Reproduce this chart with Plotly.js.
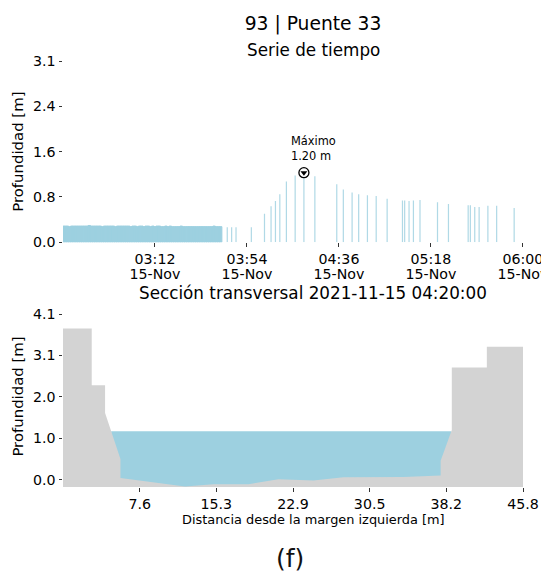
<!DOCTYPE html>
<html><head><meta charset="utf-8">
<script src="https://cdn.plot.ly/plotly-3.0.1.min.js"></script>
<style>html,body{margin:0;padding:0;background:#fff}</style>
</head><body><div id="chart" style="width:541px;height:576px"></div>
<script>
// ---------- data ----------
const stationName = '93 | Puente 33';
const day = '2021-11-15';
const dayLabel = '15-Nov';
const denseStart = '02:30';          // 1-minute samples
const denseDepth = [
  0.28,0.28,0.28,0.27,0.28,0.28,0.28,0.28,0.28,0.28,0.28,0.28,0.29,0.28,0.28,
  0.28,0.28,0.28,0.27,0.28,0.28,0.28,0.28,0.28,0.27,0.28,0.28,0.28,0.28,0.28,
  0.28,0.27,0.28,0.28,0.27,0.28,0.28,0.27,0.28,0.28,0.27,0.28,0.27,0.28,0.28,
  0.27,0.27,0.28,0.27,0.28,0.27,0.27,0.27,0.27,0.28,0.27,0.27,0.27,0.27,0.27,
  0.27,0.27,0.27,0.27,0.27,0.27,0.27,0.27,0.27,0.28,0.27,0.27,0.27
];
const sparseTimes = ['03:45','03:47','03:49','03:56','04:02','04:05','04:07','04:09','04:12','04:16',
  '04:20','04:25','04:35','04:38','04:42','04:45','04:49','04:53','04:58','05:05','05:06','05:08',
  '05:10','05:13','05:21','05:26','05:35','05:36','05:38','05:40','05:44','05:48','05:56'];
const sparseDepth = [0.26,0.26,0.26,0.26,0.49,0.62,0.71,0.83,1.05,1.15,
  1.20,1.14,1.00,0.91,0.86,0.83,0.81,0.80,0.75,0.72,0.72,0.71,
  0.72,0.73,0.69,0.66,0.64,0.64,0.61,0.61,0.63,0.63,0.59];
const maxTime = '04:20';
const maxDepth = 1.20;
const timeRange = ['02:30','06:00'];
const timeTicks = ['03:12','03:54','04:36','05:18','06:00'];
const depthTopMax = 3.125;
const depthTopLabels = ['0.0','0.8','1.6','2.4','3.1'];

// cross section
const stationX = [0,2.86,2.86,4.19,4.19,5.72,5.72,12.15,14.97,18.46,21.45,24.93,27.92,33.9,37.6,37.6,38.71,38.71,42.2,42.2,45.8];
const stationZ = [3.74,3.74,2.34,2.34,1.65,0.51,0.04,-0.165,-0.11,-0.11,0.01,-0.02,0.06,0.07,0.105,0.47,1.23,2.78,2.78,3.29,3.29];
const waterLevel = maxDepth;
const sectionMin = -0.18;
const sectionTop = 4.3;
const distLabels = ['7.6','15.3','22.9','30.5','38.2','45.8'];
const depthSecMax = 4.1;
const depthSecLabels = ['0.0','1.0','2.0','3.1','4.1'];

// ---------- build ----------
const FONT = 'DejaVu Sans, Verdana, sans-serif';
const BLUE = '#9dd0e0', GRAY = '#d3d3d3';
function ts(hm){ return day + ' ' + hm; }
const p2 = n => String(n).padStart(2,'0');
function fmt(t){ return day + ' ' + p2(t.getHours()) + ':' + p2(t.getMinutes()) + ':' + p2(t.getSeconds()); }
const d0 = new Date(ts(denseStart).replace(' ','T'));
const denseTimes = denseDepth.map((_, i) => fmt(new Date(d0.getTime() + i*60000)));
const rEnd = new Date(ts(timeRange[1]).replace(' ','T'));
const xRangeTop = [ts(timeRange[0]), fmt(new Date(rEnd.getTime() + 2000))];

// water edges (terrain crossing the level)
function crossings(){
  const xs=[];
  for(let i=0;i<stationX.length-1;i++){
    const z1=stationZ[i], z2=stationZ[i+1];
    if((z1-waterLevel)*(z2-waterLevel)<0){
      xs.push(stationX[i]+(waterLevel-z1)/(z2-z1)*(stationX[i+1]-stationX[i]));
    }
  }
  return xs;
}
const cr = crossings();
const xL = cr[0], xR = cr[cr.length-1];
const xMax = stationX[stationX.length-1];

const traces = [
  {type:'bar', x:denseTimes, y:denseDepth, width:66000, marker:{color:BLUE, line:{width:1, color:BLUE}}, xaxis:'x', yaxis:'y', hoverinfo:'skip'},
  {type:'bar', x:sparseTimes.map(ts), y:sparseDepth, width:33000, opacity:0.8, marker:{color:BLUE, line:{width:0}}, xaxis:'x', yaxis:'y', hoverinfo:'skip'},
  {type:'scatter', mode:'markers', x:[ts(maxTime)], y:[maxDepth], marker:{symbol:'circle', size:10, color:'#fff', line:{color:'#000', width:1.3}}, xaxis:'x', yaxis:'y', cliponaxis:false},
  {type:'scatter', mode:'markers', x:[ts(maxTime)], y:[maxDepth], marker:{symbol:'triangle-down', size:6, color:'#000', line:{width:0}}, xaxis:'x', yaxis:'y', cliponaxis:false},
  {type:'scatter', mode:'lines', x:[xL,xR,xR,xL], y:[waterLevel,waterLevel,sectionMin,sectionMin], fill:'toself', fillcolor:BLUE, line:{width:0, color:BLUE}, xaxis:'x2', yaxis:'y2', hoverinfo:'skip'},
  {type:'scatter', mode:'lines', x:stationX.concat([xMax,0]), y:stationZ.concat([sectionMin,sectionMin]), fill:'toself', fillcolor:GRAY, line:{width:0, color:GRAY}, xaxis:'x2', yaxis:'y2', hoverinfo:'skip'},
  // invisible trace so the date-line axis is drawn
  {type:'scatter', mode:'markers', x:[ts(timeTicks[0])], y:[0], marker:{opacity:0}, xaxis:'x3', yaxis:'y', hoverinfo:'skip'}
];

const tickCommon = {ticks:'outside', ticklen:3.5, tickwidth:1, tickcolor:'#333', showgrid:false, zeroline:false, showline:false, automargin:false, ticklabeloverflow:'allow', tickfont:{size:14.2, color:'#000'}};

const padL=63, padR=18, padT=61, padB=89, W=541, H=576;
const ph = H-padT-padB, pw = W-padL-padR;
const py = p => (H-padB-p)/ph;   // pixel y -> paper
const px = p => (p-padL)/pw;     // pixel x -> paper

const layout = {
  width:W, height:H, margin:{l:padL, r:padR, t:padT, b:padB},
  paper_bgcolor:'#fff', plot_bgcolor:'#fff', showlegend:false, barmode:'overlay',
  font:{family:FONT, size:14.2, color:'#000'},
  title:{text:stationName, x:313/W, xanchor:'center', xref:'container', y:1-23/H, yanchor:'middle', yref:'container', font:{size:18.7, color:'#000'}},
  xaxis:Object.assign({}, tickCommon, {domain:[0,1], anchor:'y', type:'date', range:xRangeTop,
    tickmode:'array', tickvals:timeTicks.map(ts), ticktext:timeTicks, tickangle:0}),
  xaxis3:Object.assign({}, tickCommon, {overlaying:'x', anchor:'y', side:'bottom', type:'date', range:xRangeTop,
    tickmode:'array', tickvals:timeTicks.map(ts), ticktext:timeTicks.map(()=>dayLabel), tickangle:0,
    ticks:'', ticklen:0, ticklabelstandoff:21}),
  yaxis:Object.assign({}, tickCommon, {domain:[py(242.3),1], anchor:'x', range:[0,depthTopMax],
    tickmode:'array', tickvals:depthTopLabels.map((_,i)=>i*depthTopMax/4), ticktext:depthTopLabels,
    title:{text:'Profundidad [m]', font:{size:14.9, color:'#000'}, standoff:5}}),
  xaxis2:Object.assign({}, tickCommon, {domain:[0,1], anchor:'y2', range:[0,xMax],
    tickmode:'array', tickvals:distLabels.map((_,i)=>(i+1)*xMax/6), ticktext:distLabels}),
  yaxis2:Object.assign({}, tickCommon, {domain:[0,py(306)], anchor:'x2', range:[sectionMin,sectionTop],
    tickmode:'array', tickvals:depthSecLabels.map((_,i)=>i*depthSecMax/4), ticktext:depthSecLabels,
    title:{text:'Profundidad [m]', font:{size:14.9, color:'#000'}, standoff:5}}),
  annotations:[
    {text:'Serie de tiempo', xref:'paper', yref:'paper', x:px(313), y:py(49.7), xanchor:'center', yanchor:'middle', showarrow:false, font:{size:16.8, color:'#000'}},
    {text:'Sección transversal ' + day + ' ' + maxTime + ':00', xref:'paper', yref:'paper', x:px(313), y:py(293), xanchor:'center', yanchor:'middle', showarrow:false, font:{size:16.8, color:'#000'}},
    {text:'Distancia desde la margen izquierda [m]', xref:'paper', yref:'paper', x:px(313), y:py(519), xanchor:'center', yanchor:'middle', showarrow:false, font:{size:12.9, color:'#000'}},
    {text:'(f)', xref:'paper', yref:'paper', x:px(290), y:py(558), xanchor:'center', yanchor:'middle', showarrow:false, font:{size:25, color:'#111'}},
    {text:'Máximo<br>' + maxDepth.toFixed(2) + ' m', xref:'x', yref:'y', x:ts(maxTime), y:maxDepth, xanchor:'left', yanchor:'bottom', xshift:-15, yshift:8, align:'left', showarrow:false, font:{size:11.4, color:'#000'}}
  ]
};

Plotly.newPlot('chart', traces, layout, {staticPlot:true, displayModeBar:false});
</script>
</body></html>
